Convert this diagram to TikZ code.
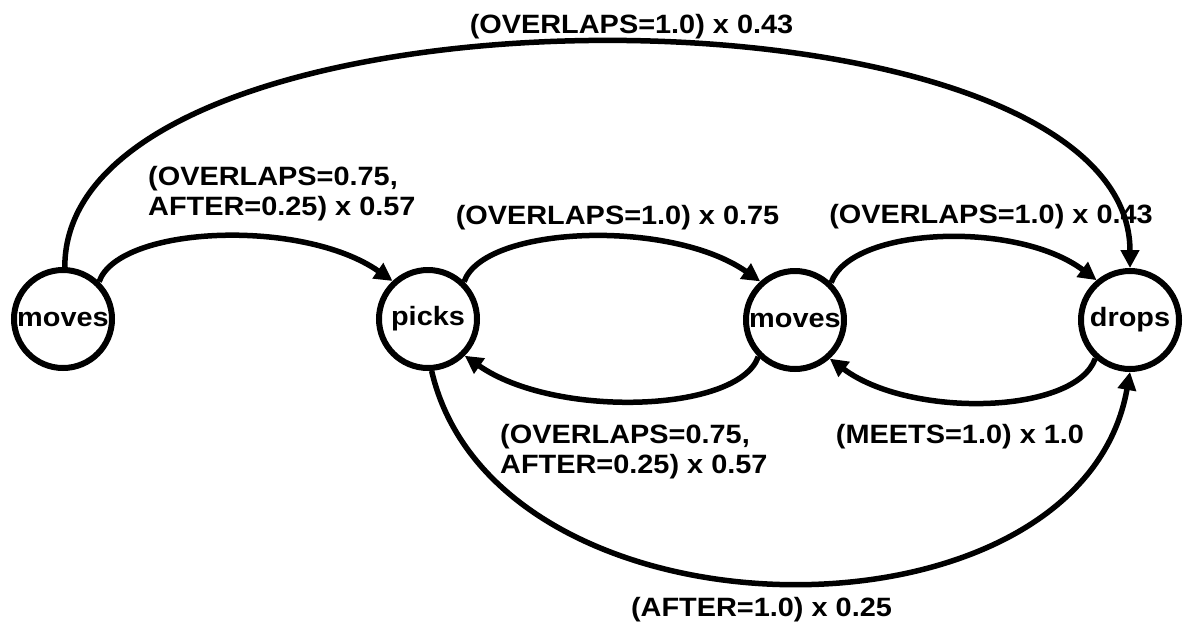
\documentclass[tikz,border=0pt]{standalone}
\usepackage{fontspec}
\usetikzlibrary{arrows.meta}
\newfontfamily\lblfont[FakeStretch=1.09]{Liberation Sans}
\begin{document}
\begin{tikzpicture}[x=1pt,y=-1pt,
  state/.style={circle,draw,line width=6pt,minimum size=98pt,inner sep=0pt,
    font=\lblfont\bfseries\fontsize{26.5}{30}\selectfont},
  lbl/.style={inner sep=0pt,anchor=base,
    font=\lblfont\bfseries\fontsize{26.5}{30}\selectfont},
  lbl2/.style={lbl,align=left,anchor=base west},
  trans/.style={line width=5.5pt,-{Triangle[length=18pt,width=18pt]}}]
\useasboundingbox (0,0) rectangle (1187,625);

% states
\node[state] (m1) at (63,319) {moves};
\node[state] (pk) at (428,319) {picks};
\node[state] (m2) at (795,320) {moves};
\node[state] (dr) at (1130,320) {drops};

% transitions
\draw[trans] (m1.88) .. controls +(0,-300) and +(0,-300) .. (dr.90);
\draw[trans] (m1.46) .. controls +(20,-56) and +(-90,-63) .. (pk.133);
\draw[trans] (pk.46) .. controls +(20,-56) and +(-90,-63) .. (m2.132);
\draw[trans] (m2.46) .. controls +(20,-56) and +(-80,-60) .. (dr.130);
\draw[trans] (m2.225) .. controls +(-20,56) and +(90,63) .. (pk.-45);
\draw[trans] (dr.228) .. controls +(-20,56) and +(80,60) .. (m2.-48);
\draw[trans] (pk.-86) .. controls +(65,280) and +(-50,283) .. (dr.-90);

% transition labels (two-line labels are placed by their last baseline)
\node[lbl] (t1) at (631.5,33) {(OVERLAPS=1.0) x 0.43};
\node[lbl2] (t2) at (148,215) {(OVERLAPS=0.75,\\AFTER=0.25) x 0.57};
\node[lbl] (t3) at (617.5,224) {(OVERLAPS=1.0) x 0.75};
\node[lbl] (t4) at (991,223) {(OVERLAPS=1.0) x 0.43};
\node[lbl2] (t5) at (500,473) {(OVERLAPS=0.75,\\AFTER=0.25) x 0.57};
\node[lbl] (t6) at (960,443) {(MEETS=1.0) x 1.0};
\node[lbl] (t7) at (761.5,616) {(AFTER=1.0) x 0.25};
\end{tikzpicture}
\end{document}
